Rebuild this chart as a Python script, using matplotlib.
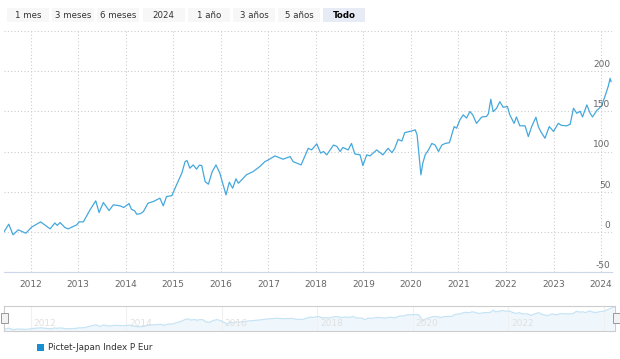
import numpy as np
import matplotlib
matplotlib.use('Agg')
import matplotlib.pyplot as plt
from matplotlib.patches import Rectangle

# datos (fecha en año decimal, valor en %)
fechas = [2011.44, 2011.54, 2011.63, 2011.74, 2011.90, 2012.02, 2012.21, 2012.41, 2012.51, 2012.56,
          2012.62, 2012.72, 2012.79, 2012.97, 2013.02, 2013.11, 2013.25, 2013.37, 2013.44, 2013.53,
          2013.65, 2013.74, 2013.88, 2013.96, 2014.07, 2014.12, 2014.19, 2014.23, 2014.30, 2014.37,
          2014.47, 2014.58, 2014.72, 2014.79, 2014.86, 2014.97, 2015.07, 2015.18, 2015.25, 2015.29,
          2015.35, 2015.42, 2015.49, 2015.55, 2015.60, 2015.67, 2015.74, 2015.82, 2015.90, 2015.98,
          2016.04, 2016.11, 2016.18, 2016.25, 2016.32, 2016.37, 2016.44, 2016.54, 2016.68, 2016.82,
          2016.93, 2017.00, 2017.14, 2017.31, 2017.46, 2017.52, 2017.69, 2017.84, 2017.91, 2018.02,
          2018.10, 2018.16, 2018.23, 2018.37, 2018.44, 2018.51, 2018.57, 2018.68, 2018.75, 2018.82,
          2018.93, 2018.99, 2019.07, 2019.14, 2019.28, 2019.41, 2019.52, 2019.60, 2019.66, 2019.73,
          2019.81, 2019.87, 2020.02, 2020.09, 2020.13, 2020.21, 2020.25, 2020.30, 2020.37, 2020.44,
          2020.51, 2020.58, 2020.65, 2020.72, 2020.81, 2020.91, 2020.96, 2021.03, 2021.10, 2021.17,
          2021.24, 2021.30, 2021.38, 2021.49, 2021.59, 2021.63, 2021.68, 2021.73, 2021.80, 2021.87,
          2021.94, 2022.03, 2022.08, 2022.17, 2022.22, 2022.29, 2022.40, 2022.47, 2022.54, 2022.63,
          2022.68, 2022.73, 2022.82, 2022.91, 2023.00, 2023.03, 2023.10, 2023.17, 2023.28, 2023.35,
          2023.42, 2023.49, 2023.56, 2023.61, 2023.70, 2023.77, 2023.82, 2023.91, 2024.01, 2024.08,
          2024.15, 2024.19, 2024.21]
valores = [0, 9.5, -3.7, 2.5, -1.7, 5.8, 12.4, 3.7, 11, 8,
           11.5, 5.4, 3.7, 8.7, 12.4, 12.4, 27.4, 38.6, 24, 36.5,
           26.5, 33.6, 32.4, 30.3, 35.2, 28.2, 26.1, 22, 22.4, 25,
           35.7, 37.7, 41.9, 32.4, 44, 45, 58.5, 73, 87.5, 88.7,
           79.2, 83.3, 78, 83, 82.5, 62.6, 59.3, 75, 83.3, 73,
           60.5, 46, 61.8, 54.3, 66, 60.5, 64.7, 71, 75, 81.2,
           87.5, 89.5, 94.5, 90.4, 93.7, 87.5, 83.3, 104, 102, 109.5,
           98, 100, 95.8, 108, 106.5, 100, 105, 102, 110, 97,
           95.8, 82.5, 95.8, 94.5, 102, 95.8, 104, 98.5, 104, 115,
           113, 123.5, 125.6, 127, 120.7, 71, 85.5, 95.8, 102, 110,
           108, 100, 108, 110, 111, 131, 129, 139.3, 145.6, 141.6,
           149.7, 145.6, 135, 143, 143.6, 147, 165, 149.7, 153.6, 162,
           155, 156, 145.6, 135, 143, 132, 132, 118.6, 131, 142.7,
           131, 125, 116.5, 131, 125, 128, 135, 132.5, 132, 134,
           153.8, 147.6, 150, 143, 158, 147.6, 143, 151, 156.7, 168.4,
           181, 191, 187]

anios = list(range(2012, 2025))
yticks = [-50, 0, 50, 100, 150, 200]
botones = ['1 mes', '3 meses', '6 meses', '2024', '1 año', '3 años', '5 años', 'Todo']
serie = 'Pictet-Japan Index P Eur'

W, H = 620, 359
color_linea = '#45a8dc'
fig = plt.figure(figsize=(W / 100, H / 100), dpi=100)
fig.patch.set_facecolor('white')


def px(x0, y0, x1, y1):
    # caja en pixeles (desde arriba) -> coords de figura
    return [x0 / W, 1 - y1 / H, (x1 - x0) / W, (y1 - y0) / H]


xmin, xmax = 2011.44, 2024.23

# grafico principal
ax = fig.add_axes(px(4, 31, 612, 272))
ax.plot(fechas, valores, color=color_linea, lw=0.9)
ax.set_xlim(xmin, xmax)
ax.set_ylim(-50, 250)
ax.set_yticks(yticks + [250])
ax.set_xticks(anios)
ax.set_xticklabels([str(a) for a in anios], fontsize=6.5, color='#666666')
ax.tick_params(axis='x', length=0, pad=6)
ax.tick_params(axis='y', length=0, labelleft=False, labelright=False)
ax.grid(True, color='#cccccc', ls=(0, (1, 2)), lw=0.8)
for s in ['top', 'left', 'right']:
    ax.spines[s].set_visible(False)
ax.spines['bottom'].set_color('#ccd6eb')
for v in yticks:
    ax.annotate(str(v), xy=(1, v), xycoords=('axes fraction', 'data'),
                xytext=(-1, 1.5), textcoords='offset points',
                ha='right', va='bottom', fontsize=6.5, color='#666666')

# navegador
nav = fig.add_axes(px(4, 306, 615, 331))
nav.fill_between(fechas, valores, -30, color='#f0f7fc', lw=0)
nav.plot(fechas, valores, color='#c6e4f5', lw=0.9)
nav.set_xlim(xmin, xmax)
nav.set_ylim(-15, 200)
nav.set_xticks(anios[::2])
nav.set_xticklabels([])
nav.set_yticks([])
nav.tick_params(length=0)
nav.grid(True, axis='x', color='#f0f0f0', lw=0.8)
for s in nav.spines.values():
    s.set_color('#cccccc')
    s.set_linewidth(0.8)
for a in anios[:-1:2]:
    nav.annotate(str(a), xy=(a, 0), xycoords=('data', 'axes fraction'),
                 xytext=(2, 2), textcoords='offset points',
                 ha='left', va='bottom', fontsize=6.5, color='#e0e0e0')
# asas del navegador
for hx in [1, 613]:
    fig.patches.append(Rectangle((hx / W, 1 - 323 / H), 7 / W, 10 / H, transform=fig.transFigure,
                                 facecolor='#f2f2f2', edgecolor='#999999', lw=0.7, zorder=5))

# botones de rango
for i, b in enumerate(botones):
    x0 = 7 + i * 45.2
    sel = b == 'Todo'
    fig.patches.append(Rectangle((x0 / W, 1 - 22 / H), 42 / W, 14 / H, transform=fig.transFigure,
                                 facecolor='#e6ebf5' if sel else '#f7f7f7', edgecolor='none'))
    fig.text((x0 + 21) / W, 1 - 15 / H, b, ha='center', va='center', fontsize=6.2,
             color='#000000' if sel else '#333333', fontweight='bold' if sel else 'normal')

# leyenda
fig.patches.append(Rectangle((37 / W, 1 - 351 / H), 7 / W, 7 / H, transform=fig.transFigure,
                             facecolor='#1a8fd0', edgecolor='none'))
fig.text(48 / W, 1 - 347.5 / H, serie, ha='left', va='center', fontsize=6.3, color='#333333')

fig.savefig('out.png', dpi=100)
